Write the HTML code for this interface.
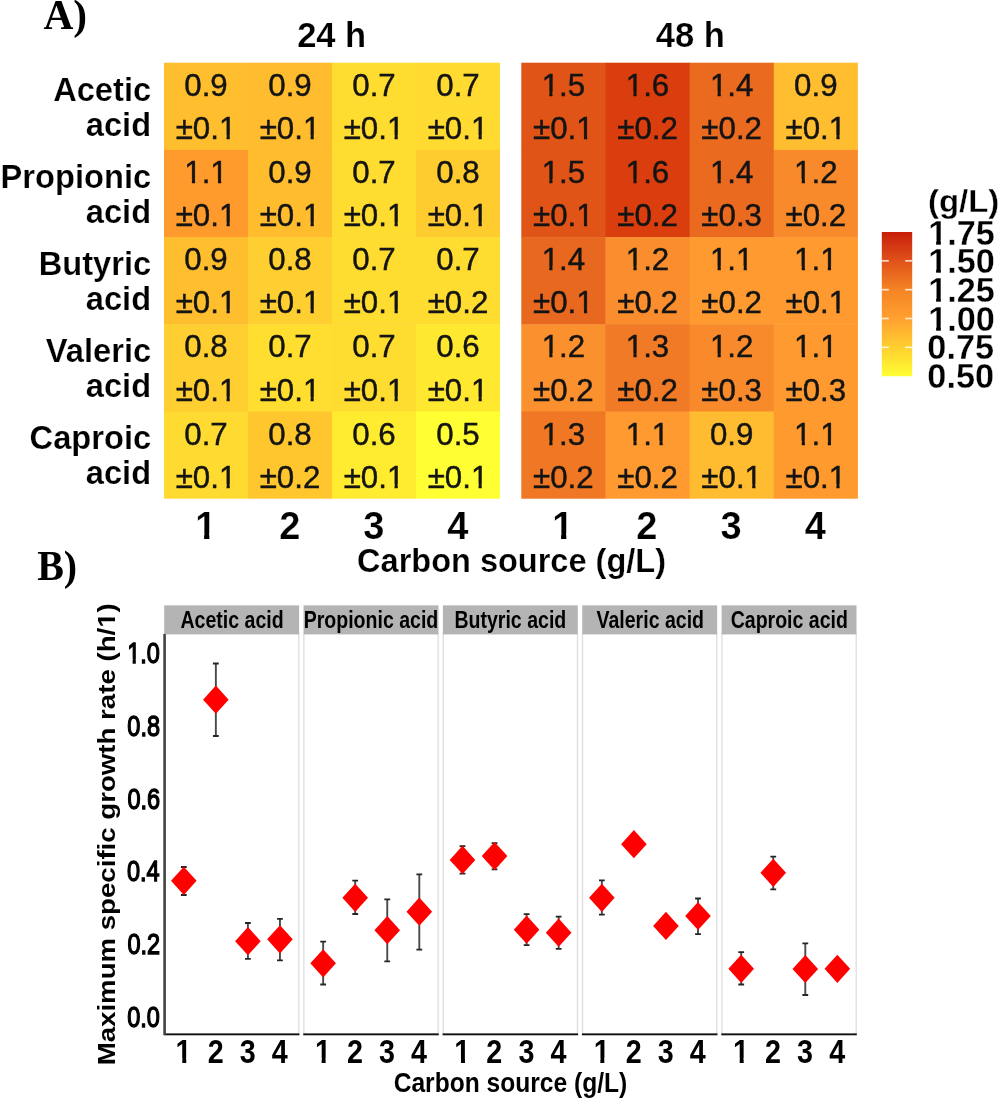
<!DOCTYPE html>
<html><head><meta charset="utf-8"><title>Figure</title>
<style>
html,body{margin:0;padding:0;background:#fff;}
body{width:1003px;height:1108px;overflow:hidden;font-family:"Liberation Sans",sans-serif;}
svg{display:block;filter:blur(0.45px);}
text.s{font-family:"Liberation Sans",sans-serif;}
text.r{font-family:"Liberation Serif",serif;}
text.b{font-weight:bold;}
text.k0{font-kerning:none;}
</style></head><body>
<svg width="1003" height="1108" viewBox="0 0 1003 1108">
<rect width="1003" height="1108" fill="#fff"/>
<rect x="164.00" y="62.70" width="84.50" height="87.70" fill="#FFBE2E"/>
<rect x="248.00" y="62.70" width="84.50" height="87.70" fill="#FFBC2E"/>
<rect x="332.00" y="62.70" width="84.50" height="87.70" fill="#FFDC30"/>
<rect x="416.00" y="62.70" width="84.00" height="87.70" fill="#FFDA30"/>
<rect x="164.00" y="149.90" width="84.50" height="87.70" fill="#FF9A2C"/>
<rect x="248.00" y="149.90" width="84.50" height="87.70" fill="#FFBD2E"/>
<rect x="332.00" y="149.90" width="84.50" height="87.70" fill="#FFDC30"/>
<rect x="416.00" y="149.90" width="84.00" height="87.70" fill="#FFCC30"/>
<rect x="164.00" y="237.10" width="84.50" height="87.70" fill="#FFBE2E"/>
<rect x="248.00" y="237.10" width="84.50" height="87.70" fill="#FFCE30"/>
<rect x="332.00" y="237.10" width="84.50" height="87.70" fill="#FFDC30"/>
<rect x="416.00" y="237.10" width="84.00" height="87.70" fill="#FFDC30"/>
<rect x="164.00" y="324.30" width="84.50" height="87.70" fill="#FFCE30"/>
<rect x="248.00" y="324.30" width="84.50" height="87.70" fill="#FFDE30"/>
<rect x="332.00" y="324.30" width="84.50" height="87.70" fill="#FFDC30"/>
<rect x="416.00" y="324.30" width="84.00" height="87.70" fill="#FFE830"/>
<rect x="164.00" y="411.50" width="84.50" height="87.20" fill="#FFDA30"/>
<rect x="248.00" y="411.50" width="84.50" height="87.20" fill="#FFC62E"/>
<rect x="332.00" y="411.50" width="84.50" height="87.20" fill="#FFEC30"/>
<rect x="416.00" y="411.50" width="84.00" height="87.20" fill="#FFFF33"/>
<text class="s k0" transform="translate(206.00,95.70) scale(0.9800,1)" font-size="31.9" text-anchor="middle" fill="#141414" stroke="#141414" stroke-width="0.45">0.9</text>
<text class="s k0" transform="translate(206.00,139.00) scale(0.9800,1)" font-size="31.9" text-anchor="middle" fill="#141414" stroke="#141414" stroke-width="0.45">±0.1</text>
<rect x="220.14" y="135.08" width="6.41" height="5.64" fill="#FFBE2E"/>
<rect x="229.77" y="135.08" width="6.16" height="5.64" fill="#FFBE2E"/>
<text class="s k0" transform="translate(290.00,95.70) scale(0.9800,1)" font-size="31.9" text-anchor="middle" fill="#141414" stroke="#141414" stroke-width="0.45">0.9</text>
<text class="s k0" transform="translate(290.00,139.00) scale(0.9800,1)" font-size="31.9" text-anchor="middle" fill="#141414" stroke="#141414" stroke-width="0.45">±0.1</text>
<rect x="304.14" y="135.08" width="6.41" height="5.64" fill="#FFBC2E"/>
<rect x="313.77" y="135.08" width="6.16" height="5.64" fill="#FFBC2E"/>
<text class="s k0" transform="translate(374.00,95.70) scale(0.9800,1)" font-size="31.9" text-anchor="middle" fill="#141414" stroke="#141414" stroke-width="0.45">0.7</text>
<text class="s k0" transform="translate(374.00,139.00) scale(0.9800,1)" font-size="31.9" text-anchor="middle" fill="#141414" stroke="#141414" stroke-width="0.45">±0.1</text>
<rect x="388.14" y="135.08" width="6.41" height="5.64" fill="#FFDC30"/>
<rect x="397.77" y="135.08" width="6.16" height="5.64" fill="#FFDC30"/>
<text class="s k0" transform="translate(458.00,95.70) scale(0.9800,1)" font-size="31.9" text-anchor="middle" fill="#141414" stroke="#141414" stroke-width="0.45">0.7</text>
<text class="s k0" transform="translate(458.00,139.00) scale(0.9800,1)" font-size="31.9" text-anchor="middle" fill="#141414" stroke="#141414" stroke-width="0.45">±0.1</text>
<rect x="472.14" y="135.08" width="6.41" height="5.64" fill="#FFDA30"/>
<rect x="481.77" y="135.08" width="6.16" height="5.64" fill="#FFDA30"/>
<text class="s k0" transform="translate(206.00,182.90) scale(0.9800,1)" font-size="31.9" text-anchor="middle" fill="#141414" stroke="#141414" stroke-width="0.45">1.1</text>
<rect x="185.49" y="178.98" width="6.41" height="5.64" fill="#FF9A2C"/>
<rect x="195.12" y="178.98" width="6.16" height="5.64" fill="#FF9A2C"/>
<rect x="211.56" y="178.98" width="6.41" height="5.64" fill="#FF9A2C"/>
<rect x="221.19" y="178.98" width="6.16" height="5.64" fill="#FF9A2C"/>
<text class="s k0" transform="translate(206.00,226.20) scale(0.9800,1)" font-size="31.9" text-anchor="middle" fill="#141414" stroke="#141414" stroke-width="0.45">±0.1</text>
<rect x="220.14" y="222.28" width="6.41" height="5.64" fill="#FF9A2C"/>
<rect x="229.77" y="222.28" width="6.16" height="5.64" fill="#FF9A2C"/>
<text class="s k0" transform="translate(290.00,182.90) scale(0.9800,1)" font-size="31.9" text-anchor="middle" fill="#141414" stroke="#141414" stroke-width="0.45">0.9</text>
<text class="s k0" transform="translate(290.00,226.20) scale(0.9800,1)" font-size="31.9" text-anchor="middle" fill="#141414" stroke="#141414" stroke-width="0.45">±0.1</text>
<rect x="304.14" y="222.28" width="6.41" height="5.64" fill="#FFBD2E"/>
<rect x="313.77" y="222.28" width="6.16" height="5.64" fill="#FFBD2E"/>
<text class="s k0" transform="translate(374.00,182.90) scale(0.9800,1)" font-size="31.9" text-anchor="middle" fill="#141414" stroke="#141414" stroke-width="0.45">0.7</text>
<text class="s k0" transform="translate(374.00,226.20) scale(0.9800,1)" font-size="31.9" text-anchor="middle" fill="#141414" stroke="#141414" stroke-width="0.45">±0.1</text>
<rect x="388.14" y="222.28" width="6.41" height="5.64" fill="#FFDC30"/>
<rect x="397.77" y="222.28" width="6.16" height="5.64" fill="#FFDC30"/>
<text class="s k0" transform="translate(458.00,182.90) scale(0.9800,1)" font-size="31.9" text-anchor="middle" fill="#141414" stroke="#141414" stroke-width="0.45">0.8</text>
<text class="s k0" transform="translate(458.00,226.20) scale(0.9800,1)" font-size="31.9" text-anchor="middle" fill="#141414" stroke="#141414" stroke-width="0.45">±0.1</text>
<rect x="472.14" y="222.28" width="6.41" height="5.64" fill="#FFCC30"/>
<rect x="481.77" y="222.28" width="6.16" height="5.64" fill="#FFCC30"/>
<text class="s k0" transform="translate(206.00,270.10) scale(0.9800,1)" font-size="31.9" text-anchor="middle" fill="#141414" stroke="#141414" stroke-width="0.45">0.9</text>
<text class="s k0" transform="translate(206.00,313.40) scale(0.9800,1)" font-size="31.9" text-anchor="middle" fill="#141414" stroke="#141414" stroke-width="0.45">±0.1</text>
<rect x="220.14" y="309.48" width="6.41" height="5.64" fill="#FFBE2E"/>
<rect x="229.77" y="309.48" width="6.16" height="5.64" fill="#FFBE2E"/>
<text class="s k0" transform="translate(290.00,270.10) scale(0.9800,1)" font-size="31.9" text-anchor="middle" fill="#141414" stroke="#141414" stroke-width="0.45">0.8</text>
<text class="s k0" transform="translate(290.00,313.40) scale(0.9800,1)" font-size="31.9" text-anchor="middle" fill="#141414" stroke="#141414" stroke-width="0.45">±0.1</text>
<rect x="304.14" y="309.48" width="6.41" height="5.64" fill="#FFCE30"/>
<rect x="313.77" y="309.48" width="6.16" height="5.64" fill="#FFCE30"/>
<text class="s k0" transform="translate(374.00,270.10) scale(0.9800,1)" font-size="31.9" text-anchor="middle" fill="#141414" stroke="#141414" stroke-width="0.45">0.7</text>
<text class="s k0" transform="translate(374.00,313.40) scale(0.9800,1)" font-size="31.9" text-anchor="middle" fill="#141414" stroke="#141414" stroke-width="0.45">±0.1</text>
<rect x="388.14" y="309.48" width="6.41" height="5.64" fill="#FFDC30"/>
<rect x="397.77" y="309.48" width="6.16" height="5.64" fill="#FFDC30"/>
<text class="s k0" transform="translate(458.00,270.10) scale(0.9800,1)" font-size="31.9" text-anchor="middle" fill="#141414" stroke="#141414" stroke-width="0.45">0.7</text>
<text class="s k0" transform="translate(458.00,313.40) scale(0.9800,1)" font-size="31.9" text-anchor="middle" fill="#141414" stroke="#141414" stroke-width="0.45">±0.2</text>
<text class="s k0" transform="translate(206.00,357.30) scale(0.9800,1)" font-size="31.9" text-anchor="middle" fill="#141414" stroke="#141414" stroke-width="0.45">0.8</text>
<text class="s k0" transform="translate(206.00,400.60) scale(0.9800,1)" font-size="31.9" text-anchor="middle" fill="#141414" stroke="#141414" stroke-width="0.45">±0.1</text>
<rect x="220.14" y="396.68" width="6.41" height="5.64" fill="#FFCE30"/>
<rect x="229.77" y="396.68" width="6.16" height="5.64" fill="#FFCE30"/>
<text class="s k0" transform="translate(290.00,357.30) scale(0.9800,1)" font-size="31.9" text-anchor="middle" fill="#141414" stroke="#141414" stroke-width="0.45">0.7</text>
<text class="s k0" transform="translate(290.00,400.60) scale(0.9800,1)" font-size="31.9" text-anchor="middle" fill="#141414" stroke="#141414" stroke-width="0.45">±0.1</text>
<rect x="304.14" y="396.68" width="6.41" height="5.64" fill="#FFDE30"/>
<rect x="313.77" y="396.68" width="6.16" height="5.64" fill="#FFDE30"/>
<text class="s k0" transform="translate(374.00,357.30) scale(0.9800,1)" font-size="31.9" text-anchor="middle" fill="#141414" stroke="#141414" stroke-width="0.45">0.7</text>
<text class="s k0" transform="translate(374.00,400.60) scale(0.9800,1)" font-size="31.9" text-anchor="middle" fill="#141414" stroke="#141414" stroke-width="0.45">±0.1</text>
<rect x="388.14" y="396.68" width="6.41" height="5.64" fill="#FFDC30"/>
<rect x="397.77" y="396.68" width="6.16" height="5.64" fill="#FFDC30"/>
<text class="s k0" transform="translate(458.00,357.30) scale(0.9800,1)" font-size="31.9" text-anchor="middle" fill="#141414" stroke="#141414" stroke-width="0.45">0.6</text>
<text class="s k0" transform="translate(458.00,400.60) scale(0.9800,1)" font-size="31.9" text-anchor="middle" fill="#141414" stroke="#141414" stroke-width="0.45">±0.1</text>
<rect x="472.14" y="396.68" width="6.41" height="5.64" fill="#FFE830"/>
<rect x="481.77" y="396.68" width="6.16" height="5.64" fill="#FFE830"/>
<text class="s k0" transform="translate(206.00,444.50) scale(0.9800,1)" font-size="31.9" text-anchor="middle" fill="#141414" stroke="#141414" stroke-width="0.45">0.7</text>
<text class="s k0" transform="translate(206.00,487.80) scale(0.9800,1)" font-size="31.9" text-anchor="middle" fill="#141414" stroke="#141414" stroke-width="0.45">±0.1</text>
<rect x="220.14" y="483.88" width="6.41" height="5.64" fill="#FFDA30"/>
<rect x="229.77" y="483.88" width="6.16" height="5.64" fill="#FFDA30"/>
<text class="s k0" transform="translate(290.00,444.50) scale(0.9800,1)" font-size="31.9" text-anchor="middle" fill="#141414" stroke="#141414" stroke-width="0.45">0.8</text>
<text class="s k0" transform="translate(290.00,487.80) scale(0.9800,1)" font-size="31.9" text-anchor="middle" fill="#141414" stroke="#141414" stroke-width="0.45">±0.2</text>
<text class="s k0" transform="translate(374.00,444.50) scale(0.9800,1)" font-size="31.9" text-anchor="middle" fill="#141414" stroke="#141414" stroke-width="0.45">0.6</text>
<text class="s k0" transform="translate(374.00,487.80) scale(0.9800,1)" font-size="31.9" text-anchor="middle" fill="#141414" stroke="#141414" stroke-width="0.45">±0.1</text>
<rect x="388.14" y="483.88" width="6.41" height="5.64" fill="#FFEC30"/>
<rect x="397.77" y="483.88" width="6.16" height="5.64" fill="#FFEC30"/>
<text class="s k0" transform="translate(458.00,444.50) scale(0.9800,1)" font-size="31.9" text-anchor="middle" fill="#141414" stroke="#141414" stroke-width="0.45">0.5</text>
<text class="s k0" transform="translate(458.00,487.80) scale(0.9800,1)" font-size="31.9" text-anchor="middle" fill="#141414" stroke="#141414" stroke-width="0.45">±0.1</text>
<rect x="472.14" y="483.88" width="6.41" height="5.64" fill="#FFFF33"/>
<rect x="481.77" y="483.88" width="6.16" height="5.64" fill="#FFFF33"/>
<rect x="521.30" y="62.70" width="84.65" height="87.70" fill="#E15417"/>
<rect x="605.45" y="62.70" width="84.65" height="87.70" fill="#DA3E0E"/>
<rect x="689.60" y="62.70" width="84.65" height="87.70" fill="#EA6A20"/>
<rect x="773.75" y="62.70" width="84.15" height="87.70" fill="#FFBE30"/>
<rect x="521.30" y="149.90" width="84.65" height="87.70" fill="#E15417"/>
<rect x="605.45" y="149.90" width="84.65" height="87.70" fill="#DA3E0E"/>
<rect x="689.60" y="149.90" width="84.65" height="87.70" fill="#EA6A20"/>
<rect x="773.75" y="149.90" width="84.15" height="87.70" fill="#F98A2C"/>
<rect x="521.30" y="237.10" width="84.65" height="87.70" fill="#E86820"/>
<rect x="605.45" y="237.10" width="84.65" height="87.70" fill="#FA8E2E"/>
<rect x="689.60" y="237.10" width="84.65" height="87.70" fill="#FF9A30"/>
<rect x="773.75" y="237.10" width="84.15" height="87.70" fill="#FF9A30"/>
<rect x="521.30" y="324.30" width="84.65" height="87.70" fill="#FA902E"/>
<rect x="605.45" y="324.30" width="84.65" height="87.70" fill="#F07A26"/>
<rect x="689.60" y="324.30" width="84.65" height="87.70" fill="#F88A2C"/>
<rect x="773.75" y="324.30" width="84.15" height="87.70" fill="#FF9A30"/>
<rect x="521.30" y="411.50" width="84.65" height="87.20" fill="#F07824"/>
<rect x="605.45" y="411.50" width="84.65" height="87.20" fill="#FF9A30"/>
<rect x="689.60" y="411.50" width="84.65" height="87.20" fill="#FFBC30"/>
<rect x="773.75" y="411.50" width="84.15" height="87.20" fill="#FF9A2F"/>
<text class="s k0" transform="translate(563.38,95.70) scale(0.9800,1)" font-size="31.9" text-anchor="middle" fill="#141414" stroke="#141414" stroke-width="0.45">1.5</text>
<rect x="542.86" y="91.78" width="6.41" height="5.64" fill="#E15417"/>
<rect x="552.50" y="91.78" width="6.16" height="5.64" fill="#E15417"/>
<text class="s k0" transform="translate(563.38,139.00) scale(0.9800,1)" font-size="31.9" text-anchor="middle" fill="#141414" stroke="#141414" stroke-width="0.45">±0.1</text>
<rect x="577.51" y="135.08" width="6.41" height="5.64" fill="#E15417"/>
<rect x="587.15" y="135.08" width="6.16" height="5.64" fill="#E15417"/>
<text class="s k0" transform="translate(647.52,95.70) scale(0.9800,1)" font-size="31.9" text-anchor="middle" fill="#141414" stroke="#141414" stroke-width="0.45">1.6</text>
<rect x="627.01" y="91.78" width="6.41" height="5.64" fill="#DA3E0E"/>
<rect x="636.65" y="91.78" width="6.16" height="5.64" fill="#DA3E0E"/>
<text class="s k0" transform="translate(647.52,139.00) scale(0.9800,1)" font-size="31.9" text-anchor="middle" fill="#141414" stroke="#141414" stroke-width="0.45">±0.2</text>
<text class="s k0" transform="translate(731.67,95.70) scale(0.9800,1)" font-size="31.9" text-anchor="middle" fill="#141414" stroke="#141414" stroke-width="0.45">1.4</text>
<rect x="711.16" y="91.78" width="6.41" height="5.64" fill="#EA6A20"/>
<rect x="720.80" y="91.78" width="6.16" height="5.64" fill="#EA6A20"/>
<text class="s k0" transform="translate(731.67,139.00) scale(0.9800,1)" font-size="31.9" text-anchor="middle" fill="#141414" stroke="#141414" stroke-width="0.45">±0.2</text>
<text class="s k0" transform="translate(815.83,95.70) scale(0.9800,1)" font-size="31.9" text-anchor="middle" fill="#141414" stroke="#141414" stroke-width="0.45">0.9</text>
<text class="s k0" transform="translate(815.83,139.00) scale(0.9800,1)" font-size="31.9" text-anchor="middle" fill="#141414" stroke="#141414" stroke-width="0.45">±0.1</text>
<rect x="829.96" y="135.08" width="6.41" height="5.64" fill="#FFBE30"/>
<rect x="839.60" y="135.08" width="6.16" height="5.64" fill="#FFBE30"/>
<text class="s k0" transform="translate(563.38,182.90) scale(0.9800,1)" font-size="31.9" text-anchor="middle" fill="#141414" stroke="#141414" stroke-width="0.45">1.5</text>
<rect x="542.86" y="178.98" width="6.41" height="5.64" fill="#E15417"/>
<rect x="552.50" y="178.98" width="6.16" height="5.64" fill="#E15417"/>
<text class="s k0" transform="translate(563.38,226.20) scale(0.9800,1)" font-size="31.9" text-anchor="middle" fill="#141414" stroke="#141414" stroke-width="0.45">±0.1</text>
<rect x="577.51" y="222.28" width="6.41" height="5.64" fill="#E15417"/>
<rect x="587.15" y="222.28" width="6.16" height="5.64" fill="#E15417"/>
<text class="s k0" transform="translate(647.52,182.90) scale(0.9800,1)" font-size="31.9" text-anchor="middle" fill="#141414" stroke="#141414" stroke-width="0.45">1.6</text>
<rect x="627.01" y="178.98" width="6.41" height="5.64" fill="#DA3E0E"/>
<rect x="636.65" y="178.98" width="6.16" height="5.64" fill="#DA3E0E"/>
<text class="s k0" transform="translate(647.52,226.20) scale(0.9800,1)" font-size="31.9" text-anchor="middle" fill="#141414" stroke="#141414" stroke-width="0.45">±0.2</text>
<text class="s k0" transform="translate(731.67,182.90) scale(0.9800,1)" font-size="31.9" text-anchor="middle" fill="#141414" stroke="#141414" stroke-width="0.45">1.4</text>
<rect x="711.16" y="178.98" width="6.41" height="5.64" fill="#EA6A20"/>
<rect x="720.80" y="178.98" width="6.16" height="5.64" fill="#EA6A20"/>
<text class="s k0" transform="translate(731.67,226.20) scale(0.9800,1)" font-size="31.9" text-anchor="middle" fill="#141414" stroke="#141414" stroke-width="0.45">±0.3</text>
<text class="s k0" transform="translate(815.83,182.90) scale(0.9800,1)" font-size="31.9" text-anchor="middle" fill="#141414" stroke="#141414" stroke-width="0.45">1.2</text>
<rect x="795.31" y="178.98" width="6.41" height="5.64" fill="#F98A2C"/>
<rect x="804.95" y="178.98" width="6.16" height="5.64" fill="#F98A2C"/>
<text class="s k0" transform="translate(815.83,226.20) scale(0.9800,1)" font-size="31.9" text-anchor="middle" fill="#141414" stroke="#141414" stroke-width="0.45">±0.2</text>
<text class="s k0" transform="translate(563.38,270.10) scale(0.9800,1)" font-size="31.9" text-anchor="middle" fill="#141414" stroke="#141414" stroke-width="0.45">1.4</text>
<rect x="542.86" y="266.18" width="6.41" height="5.64" fill="#E86820"/>
<rect x="552.50" y="266.18" width="6.16" height="5.64" fill="#E86820"/>
<text class="s k0" transform="translate(563.38,313.40) scale(0.9800,1)" font-size="31.9" text-anchor="middle" fill="#141414" stroke="#141414" stroke-width="0.45">±0.1</text>
<rect x="577.51" y="309.48" width="6.41" height="5.64" fill="#E86820"/>
<rect x="587.15" y="309.48" width="6.16" height="5.64" fill="#E86820"/>
<text class="s k0" transform="translate(647.52,270.10) scale(0.9800,1)" font-size="31.9" text-anchor="middle" fill="#141414" stroke="#141414" stroke-width="0.45">1.2</text>
<rect x="627.01" y="266.18" width="6.41" height="5.64" fill="#FA8E2E"/>
<rect x="636.65" y="266.18" width="6.16" height="5.64" fill="#FA8E2E"/>
<text class="s k0" transform="translate(647.52,313.40) scale(0.9800,1)" font-size="31.9" text-anchor="middle" fill="#141414" stroke="#141414" stroke-width="0.45">±0.2</text>
<text class="s k0" transform="translate(731.67,270.10) scale(0.9800,1)" font-size="31.9" text-anchor="middle" fill="#141414" stroke="#141414" stroke-width="0.45">1.1</text>
<rect x="711.16" y="266.18" width="6.41" height="5.64" fill="#FF9A30"/>
<rect x="720.80" y="266.18" width="6.16" height="5.64" fill="#FF9A30"/>
<rect x="737.24" y="266.18" width="6.41" height="5.64" fill="#FF9A30"/>
<rect x="746.87" y="266.18" width="6.16" height="5.64" fill="#FF9A30"/>
<text class="s k0" transform="translate(731.67,313.40) scale(0.9800,1)" font-size="31.9" text-anchor="middle" fill="#141414" stroke="#141414" stroke-width="0.45">±0.2</text>
<text class="s k0" transform="translate(815.83,270.10) scale(0.9800,1)" font-size="31.9" text-anchor="middle" fill="#141414" stroke="#141414" stroke-width="0.45">1.1</text>
<rect x="795.31" y="266.18" width="6.41" height="5.64" fill="#FF9A30"/>
<rect x="804.95" y="266.18" width="6.16" height="5.64" fill="#FF9A30"/>
<rect x="821.39" y="266.18" width="6.41" height="5.64" fill="#FF9A30"/>
<rect x="831.02" y="266.18" width="6.16" height="5.64" fill="#FF9A30"/>
<text class="s k0" transform="translate(815.83,313.40) scale(0.9800,1)" font-size="31.9" text-anchor="middle" fill="#141414" stroke="#141414" stroke-width="0.45">±0.1</text>
<rect x="829.96" y="309.48" width="6.41" height="5.64" fill="#FF9A30"/>
<rect x="839.60" y="309.48" width="6.16" height="5.64" fill="#FF9A30"/>
<text class="s k0" transform="translate(563.38,357.30) scale(0.9800,1)" font-size="31.9" text-anchor="middle" fill="#141414" stroke="#141414" stroke-width="0.45">1.2</text>
<rect x="542.86" y="353.38" width="6.41" height="5.64" fill="#FA902E"/>
<rect x="552.50" y="353.38" width="6.16" height="5.64" fill="#FA902E"/>
<text class="s k0" transform="translate(563.38,400.60) scale(0.9800,1)" font-size="31.9" text-anchor="middle" fill="#141414" stroke="#141414" stroke-width="0.45">±0.2</text>
<text class="s k0" transform="translate(647.52,357.30) scale(0.9800,1)" font-size="31.9" text-anchor="middle" fill="#141414" stroke="#141414" stroke-width="0.45">1.3</text>
<rect x="627.01" y="353.38" width="6.41" height="5.64" fill="#F07A26"/>
<rect x="636.65" y="353.38" width="6.16" height="5.64" fill="#F07A26"/>
<text class="s k0" transform="translate(647.52,400.60) scale(0.9800,1)" font-size="31.9" text-anchor="middle" fill="#141414" stroke="#141414" stroke-width="0.45">±0.2</text>
<text class="s k0" transform="translate(731.67,357.30) scale(0.9800,1)" font-size="31.9" text-anchor="middle" fill="#141414" stroke="#141414" stroke-width="0.45">1.2</text>
<rect x="711.16" y="353.38" width="6.41" height="5.64" fill="#F88A2C"/>
<rect x="720.80" y="353.38" width="6.16" height="5.64" fill="#F88A2C"/>
<text class="s k0" transform="translate(731.67,400.60) scale(0.9800,1)" font-size="31.9" text-anchor="middle" fill="#141414" stroke="#141414" stroke-width="0.45">±0.3</text>
<text class="s k0" transform="translate(815.83,357.30) scale(0.9800,1)" font-size="31.9" text-anchor="middle" fill="#141414" stroke="#141414" stroke-width="0.45">1.1</text>
<rect x="795.31" y="353.38" width="6.41" height="5.64" fill="#FF9A30"/>
<rect x="804.95" y="353.38" width="6.16" height="5.64" fill="#FF9A30"/>
<rect x="821.39" y="353.38" width="6.41" height="5.64" fill="#FF9A30"/>
<rect x="831.02" y="353.38" width="6.16" height="5.64" fill="#FF9A30"/>
<text class="s k0" transform="translate(815.83,400.60) scale(0.9800,1)" font-size="31.9" text-anchor="middle" fill="#141414" stroke="#141414" stroke-width="0.45">±0.3</text>
<text class="s k0" transform="translate(563.38,444.50) scale(0.9800,1)" font-size="31.9" text-anchor="middle" fill="#141414" stroke="#141414" stroke-width="0.45">1.3</text>
<rect x="542.86" y="440.58" width="6.41" height="5.64" fill="#F07824"/>
<rect x="552.50" y="440.58" width="6.16" height="5.64" fill="#F07824"/>
<text class="s k0" transform="translate(563.38,487.80) scale(0.9800,1)" font-size="31.9" text-anchor="middle" fill="#141414" stroke="#141414" stroke-width="0.45">±0.2</text>
<text class="s k0" transform="translate(647.52,444.50) scale(0.9800,1)" font-size="31.9" text-anchor="middle" fill="#141414" stroke="#141414" stroke-width="0.45">1.1</text>
<rect x="627.01" y="440.58" width="6.41" height="5.64" fill="#FF9A30"/>
<rect x="636.65" y="440.58" width="6.16" height="5.64" fill="#FF9A30"/>
<rect x="653.09" y="440.58" width="6.41" height="5.64" fill="#FF9A30"/>
<rect x="662.72" y="440.58" width="6.16" height="5.64" fill="#FF9A30"/>
<text class="s k0" transform="translate(647.52,487.80) scale(0.9800,1)" font-size="31.9" text-anchor="middle" fill="#141414" stroke="#141414" stroke-width="0.45">±0.2</text>
<text class="s k0" transform="translate(731.67,444.50) scale(0.9800,1)" font-size="31.9" text-anchor="middle" fill="#141414" stroke="#141414" stroke-width="0.45">0.9</text>
<text class="s k0" transform="translate(731.67,487.80) scale(0.9800,1)" font-size="31.9" text-anchor="middle" fill="#141414" stroke="#141414" stroke-width="0.45">±0.1</text>
<rect x="745.81" y="483.88" width="6.41" height="5.64" fill="#FFBC30"/>
<rect x="755.45" y="483.88" width="6.16" height="5.64" fill="#FFBC30"/>
<text class="s k0" transform="translate(815.83,444.50) scale(0.9800,1)" font-size="31.9" text-anchor="middle" fill="#141414" stroke="#141414" stroke-width="0.45">1.1</text>
<rect x="795.31" y="440.58" width="6.41" height="5.64" fill="#FF9A2F"/>
<rect x="804.95" y="440.58" width="6.16" height="5.64" fill="#FF9A2F"/>
<rect x="821.39" y="440.58" width="6.41" height="5.64" fill="#FF9A2F"/>
<rect x="831.02" y="440.58" width="6.16" height="5.64" fill="#FF9A2F"/>
<text class="s k0" transform="translate(815.83,487.80) scale(0.9800,1)" font-size="31.9" text-anchor="middle" fill="#141414" stroke="#141414" stroke-width="0.45">±0.1</text>
<rect x="829.96" y="483.88" width="6.41" height="5.64" fill="#FF9A2F"/>
<rect x="839.60" y="483.88" width="6.16" height="5.64" fill="#FF9A2F"/>
<text class="s b" transform="translate(331.67,46.60) scale(0.9650,1)" font-size="35.8" text-anchor="middle" fill="#000" stroke="#fff" stroke-width="0.22">24 h</text>
<text class="s b" transform="translate(690.31,46.60) scale(0.9650,1)" font-size="35.8" text-anchor="middle" fill="#000" stroke="#fff" stroke-width="0.22">48 h</text>
<text class="r b" transform="translate(43.50,28.70) scale(0.9850,1)" font-size="42" text-anchor="start" fill="#000">A)</text>
<text class="r b" transform="translate(37.24,579.70) scale(0.9440,1)" font-size="42.3" text-anchor="start" fill="#000">B)</text>
<text class="s b" transform="translate(151.16,100.80) scale(0.9750,1)" font-size="33.5" text-anchor="end" fill="#000" stroke="#fff" stroke-width="0.2">Acetic</text>
<text class="s b" transform="translate(151.15,136.20) scale(0.9750,1)" font-size="33.5" text-anchor="end" fill="#000" stroke="#fff" stroke-width="0.2">acid</text>
<text class="s b" transform="translate(151.16,187.80) scale(0.9750,1)" font-size="33.5" text-anchor="end" fill="#000" stroke="#fff" stroke-width="0.2">Propionic</text>
<text class="s b" transform="translate(151.15,223.20) scale(0.9750,1)" font-size="33.5" text-anchor="end" fill="#000" stroke="#fff" stroke-width="0.2">acid</text>
<text class="s b" transform="translate(151.16,274.80) scale(0.9750,1)" font-size="33.5" text-anchor="end" fill="#000" stroke="#fff" stroke-width="0.2">Butyric</text>
<text class="s b" transform="translate(151.15,310.20) scale(0.9750,1)" font-size="33.5" text-anchor="end" fill="#000" stroke="#fff" stroke-width="0.2">acid</text>
<text class="s b" transform="translate(151.16,361.80) scale(0.9750,1)" font-size="33.5" text-anchor="end" fill="#000" stroke="#fff" stroke-width="0.2">Valeric</text>
<text class="s b" transform="translate(151.15,397.20) scale(0.9750,1)" font-size="33.5" text-anchor="end" fill="#000" stroke="#fff" stroke-width="0.2">acid</text>
<text class="s b" transform="translate(151.16,448.80) scale(0.9750,1)" font-size="33.5" text-anchor="end" fill="#000" stroke="#fff" stroke-width="0.2">Caproic</text>
<text class="s b" transform="translate(151.15,484.20) scale(0.9750,1)" font-size="33.5" text-anchor="end" fill="#000" stroke="#fff" stroke-width="0.2">acid</text>
<text class="s b k0" transform="translate(205.80,538.50)" font-size="38" text-anchor="middle" fill="#000" stroke="#fff" stroke-width="0.22">1</text>
<rect x="196.49" y="533.32" width="7.60" height="6.68" fill="#fff"/>
<rect x="209.33" y="533.32" width="7.11" height="6.68" fill="#fff"/>
<text class="s b k0" transform="translate(562.77,538.50)" font-size="38" text-anchor="middle" fill="#000" stroke="#fff" stroke-width="0.22">1</text>
<rect x="553.46" y="533.32" width="7.60" height="6.68" fill="#fff"/>
<rect x="566.31" y="533.32" width="7.11" height="6.68" fill="#fff"/>
<text class="s b k0" transform="translate(289.80,538.50)" font-size="38" text-anchor="middle" fill="#000" stroke="#fff" stroke-width="0.22">2</text>
<text class="s b k0" transform="translate(646.92,538.50)" font-size="38" text-anchor="middle" fill="#000" stroke="#fff" stroke-width="0.22">2</text>
<text class="s b k0" transform="translate(373.80,538.50)" font-size="38" text-anchor="middle" fill="#000" stroke="#fff" stroke-width="0.22">3</text>
<text class="s b k0" transform="translate(731.07,538.50)" font-size="38" text-anchor="middle" fill="#000" stroke="#fff" stroke-width="0.22">3</text>
<text class="s b k0" transform="translate(457.80,538.50)" font-size="38" text-anchor="middle" fill="#000" stroke="#fff" stroke-width="0.22">4</text>
<text class="s b k0" transform="translate(815.23,538.50)" font-size="38" text-anchor="middle" fill="#000" stroke="#fff" stroke-width="0.22">4</text>
<text class="s b" transform="translate(357.07,572.20) scale(0.9980,1)" font-size="32.6" text-anchor="start" fill="#000" stroke="#fff" stroke-width="0.22">Carbon source (g/L)</text>
<defs><linearGradient id="lg" x1="0" y1="0" x2="0" y2="1">
<stop offset="0" stop-color="#C81E0A"/>
<stop offset="0.2" stop-color="#E0521A"/>
<stop offset="0.4" stop-color="#F58425"/>
<stop offset="0.6" stop-color="#FFA030"/>
<stop offset="0.8" stop-color="#FFCF30"/>
<stop offset="1" stop-color="#FFFF33"/>
</linearGradient></defs>
<rect x="881.8" y="232" width="30.4" height="144.2" fill="url(#lg)"/>
<rect x="881.8" y="260.04" width="7" height="1.6" fill="#fff" opacity="0.8"/>
<rect x="905.2" y="260.04" width="7" height="1.6" fill="#fff" opacity="0.8"/>
<rect x="881.8" y="288.88" width="7" height="1.6" fill="#fff" opacity="0.8"/>
<rect x="905.2" y="288.88" width="7" height="1.6" fill="#fff" opacity="0.8"/>
<rect x="881.8" y="317.72" width="7" height="1.6" fill="#fff" opacity="0.8"/>
<rect x="905.2" y="317.72" width="7" height="1.6" fill="#fff" opacity="0.8"/>
<rect x="881.8" y="346.56" width="7" height="1.6" fill="#fff" opacity="0.8"/>
<rect x="905.2" y="346.56" width="7" height="1.6" fill="#fff" opacity="0.8"/>
<text class="s b" transform="translate(927.96,211.90) scale(1.0300,1)" font-size="32.0" text-anchor="start" fill="#000" stroke="#fff" stroke-width="0.32">(g/L)</text>
<text class="s b k0" transform="translate(928.14,244.80) scale(0.9570,1)" font-size="35.8" text-anchor="start" fill="#000" stroke="#fff" stroke-width="0.32">1.75</text>
<rect x="929.27" y="239.85" width="6.85" height="6.45" fill="#fff"/>
<rect x="940.85" y="239.85" width="6.41" height="6.45" fill="#fff"/>
<text class="s b k0" transform="translate(928.14,273.44) scale(0.9570,1)" font-size="35.8" text-anchor="start" fill="#000" stroke="#fff" stroke-width="0.32">1.50</text>
<rect x="929.27" y="268.49" width="6.85" height="6.45" fill="#fff"/>
<rect x="940.85" y="268.49" width="6.41" height="6.45" fill="#fff"/>
<text class="s b k0" transform="translate(928.14,302.08) scale(0.9570,1)" font-size="35.8" text-anchor="start" fill="#000" stroke="#fff" stroke-width="0.32">1.25</text>
<rect x="929.27" y="297.13" width="6.85" height="6.45" fill="#fff"/>
<rect x="940.85" y="297.13" width="6.41" height="6.45" fill="#fff"/>
<text class="s b k0" transform="translate(928.14,330.72) scale(0.9570,1)" font-size="35.8" text-anchor="start" fill="#000" stroke="#fff" stroke-width="0.32">1.00</text>
<rect x="929.27" y="325.77" width="6.85" height="6.45" fill="#fff"/>
<rect x="940.85" y="325.77" width="6.41" height="6.45" fill="#fff"/>
<text class="s b k0" transform="translate(927.34,359.36) scale(0.9570,1)" font-size="35.8" text-anchor="start" fill="#000" stroke="#fff" stroke-width="0.32">0.75</text>
<text class="s b k0" transform="translate(927.34,388.00) scale(0.9570,1)" font-size="35.8" text-anchor="start" fill="#000" stroke="#fff" stroke-width="0.32">0.50</text>
<rect x="164.50" y="633.7" width="134.30" height="400.60" fill="#fff" stroke="#E0E0E0" stroke-width="1.4"/>
<rect x="164.20" y="605.4" width="134.90" height="28.90" fill="#B4B4B4"/>
<rect x="163.90" y="1033.40" width="135.50" height="1.9" fill="#111"/>
<text class="s b" transform="translate(232.05,627.65) scale(0.8430,1)" font-size="23.2" text-anchor="middle" fill="#000">Acetic acid</text>
<path d="M183.80 867.00V895.00" stroke="#4a4a4a" stroke-width="1.9" fill="none"/>
<path d="M180.90 867.00h5.8M180.90 895.00h5.8" stroke="#262626" stroke-width="1.8" fill="none"/>
<path d="M183.80 866.70L196.60 880.80L183.80 894.90L171.00 880.80Z" fill="#FF0000"/>
<text class="s b k0" transform="translate(183.60,1062.90) scale(0.8700,1)" font-size="33" text-anchor="middle" fill="#000">1</text>
<rect x="176.56" y="1058.23" width="5.74" height="6.17" fill="#fff"/>
<rect x="186.27" y="1058.23" width="5.37" height="6.17" fill="#fff"/>
<path d="M215.85 663.50V736.00" stroke="#4a4a4a" stroke-width="1.9" fill="none"/>
<path d="M212.95 663.50h5.8M212.95 736.00h5.8" stroke="#262626" stroke-width="1.8" fill="none"/>
<path d="M215.85 685.60L228.65 699.70L215.85 713.80L203.05 699.70Z" fill="#FF0000"/>
<text class="s b k0" transform="translate(215.65,1062.90) scale(0.8700,1)" font-size="33" text-anchor="middle" fill="#000">2</text>
<path d="M247.90 923.00V958.90" stroke="#4a4a4a" stroke-width="1.9" fill="none"/>
<path d="M245.00 923.00h5.8M245.00 958.90h5.8" stroke="#262626" stroke-width="1.8" fill="none"/>
<path d="M247.90 927.10L260.70 941.20L247.90 955.30L235.10 941.20Z" fill="#FF0000"/>
<text class="s b k0" transform="translate(247.70,1062.90) scale(0.8700,1)" font-size="33" text-anchor="middle" fill="#000">3</text>
<path d="M279.95 918.80V960.30" stroke="#4a4a4a" stroke-width="1.9" fill="none"/>
<path d="M277.05 918.80h5.8M277.05 960.30h5.8" stroke="#262626" stroke-width="1.8" fill="none"/>
<path d="M279.95 925.20L292.75 939.30L279.95 953.40L267.15 939.30Z" fill="#FF0000"/>
<text class="s b k0" transform="translate(279.75,1062.90) scale(0.8700,1)" font-size="33" text-anchor="middle" fill="#000">4</text>
<rect x="303.85" y="633.7" width="134.30" height="400.60" fill="#fff" stroke="#E0E0E0" stroke-width="1.4"/>
<rect x="303.55" y="605.4" width="134.90" height="28.90" fill="#B4B4B4"/>
<rect x="303.25" y="1033.40" width="135.50" height="1.9" fill="#111"/>
<text class="s b" transform="translate(370.99,627.65) scale(0.8430,1)" font-size="23.2" text-anchor="middle" fill="#000">Propionic acid</text>
<path d="M323.15 941.60V984.50" stroke="#4a4a4a" stroke-width="1.9" fill="none"/>
<path d="M320.25 941.60h5.8M320.25 984.50h5.8" stroke="#262626" stroke-width="1.8" fill="none"/>
<path d="M323.15 949.20L335.95 963.30L323.15 977.40L310.35 963.30Z" fill="#FF0000"/>
<text class="s b k0" transform="translate(322.95,1062.90) scale(0.8700,1)" font-size="33" text-anchor="middle" fill="#000">1</text>
<rect x="315.91" y="1058.23" width="5.74" height="6.17" fill="#fff"/>
<rect x="325.62" y="1058.23" width="5.37" height="6.17" fill="#fff"/>
<path d="M355.20 880.60V914.00" stroke="#4a4a4a" stroke-width="1.9" fill="none"/>
<path d="M352.30 880.60h5.8M352.30 914.00h5.8" stroke="#262626" stroke-width="1.8" fill="none"/>
<path d="M355.20 883.70L368.00 897.80L355.20 911.90L342.40 897.80Z" fill="#FF0000"/>
<text class="s b k0" transform="translate(355.00,1062.90) scale(0.8700,1)" font-size="33" text-anchor="middle" fill="#000">2</text>
<path d="M387.25 899.30V961.30" stroke="#4a4a4a" stroke-width="1.9" fill="none"/>
<path d="M384.35 899.30h5.8M384.35 961.30h5.8" stroke="#262626" stroke-width="1.8" fill="none"/>
<path d="M387.25 916.10L400.05 930.20L387.25 944.30L374.45 930.20Z" fill="#FF0000"/>
<text class="s b k0" transform="translate(387.05,1062.90) scale(0.8700,1)" font-size="33" text-anchor="middle" fill="#000">3</text>
<path d="M419.30 874.30V949.60" stroke="#4a4a4a" stroke-width="1.9" fill="none"/>
<path d="M416.40 874.30h5.8M416.40 949.60h5.8" stroke="#262626" stroke-width="1.8" fill="none"/>
<path d="M419.30 897.60L432.10 911.70L419.30 925.80L406.50 911.70Z" fill="#FF0000"/>
<text class="s b k0" transform="translate(419.10,1062.90) scale(0.8700,1)" font-size="33" text-anchor="middle" fill="#000">4</text>
<rect x="443.20" y="633.7" width="134.30" height="400.60" fill="#fff" stroke="#E0E0E0" stroke-width="1.4"/>
<rect x="442.90" y="605.4" width="134.90" height="28.90" fill="#B4B4B4"/>
<rect x="442.60" y="1033.40" width="135.50" height="1.9" fill="#111"/>
<text class="s b" transform="translate(510.34,627.65) scale(0.8430,1)" font-size="23.2" text-anchor="middle" fill="#000">Butyric acid</text>
<path d="M462.50 846.20V873.60" stroke="#4a4a4a" stroke-width="1.9" fill="none"/>
<path d="M459.60 846.20h5.8M459.60 873.60h5.8" stroke="#262626" stroke-width="1.8" fill="none"/>
<path d="M462.50 845.80L475.30 859.90L462.50 874.00L449.70 859.90Z" fill="#FF0000"/>
<text class="s b k0" transform="translate(462.30,1062.90) scale(0.8700,1)" font-size="33" text-anchor="middle" fill="#000">1</text>
<rect x="455.26" y="1058.23" width="5.74" height="6.17" fill="#fff"/>
<rect x="464.97" y="1058.23" width="5.37" height="6.17" fill="#fff"/>
<path d="M494.55 843.20V869.40" stroke="#4a4a4a" stroke-width="1.9" fill="none"/>
<path d="M491.65 843.20h5.8M491.65 869.40h5.8" stroke="#262626" stroke-width="1.8" fill="none"/>
<path d="M494.55 842.00L507.35 856.10L494.55 870.20L481.75 856.10Z" fill="#FF0000"/>
<text class="s b k0" transform="translate(494.35,1062.90) scale(0.8700,1)" font-size="33" text-anchor="middle" fill="#000">2</text>
<path d="M526.60 914.20V945.10" stroke="#4a4a4a" stroke-width="1.9" fill="none"/>
<path d="M523.70 914.20h5.8M523.70 945.10h5.8" stroke="#262626" stroke-width="1.8" fill="none"/>
<path d="M526.60 915.60L539.40 929.70L526.60 943.80L513.80 929.70Z" fill="#FF0000"/>
<text class="s b k0" transform="translate(526.40,1062.90) scale(0.8700,1)" font-size="33" text-anchor="middle" fill="#000">3</text>
<path d="M558.65 916.70V948.90" stroke="#4a4a4a" stroke-width="1.9" fill="none"/>
<path d="M555.75 916.70h5.8M555.75 948.90h5.8" stroke="#262626" stroke-width="1.8" fill="none"/>
<path d="M558.65 918.60L571.45 932.70L558.65 946.80L545.85 932.70Z" fill="#FF0000"/>
<text class="s b k0" transform="translate(558.45,1062.90) scale(0.8700,1)" font-size="33" text-anchor="middle" fill="#000">4</text>
<rect x="582.55" y="633.7" width="134.30" height="400.60" fill="#fff" stroke="#E0E0E0" stroke-width="1.4"/>
<rect x="582.25" y="605.4" width="134.90" height="28.90" fill="#B4B4B4"/>
<rect x="581.95" y="1033.40" width="135.50" height="1.9" fill="#111"/>
<text class="s b" transform="translate(650.28,627.65) scale(0.8430,1)" font-size="23.2" text-anchor="middle" fill="#000">Valeric acid</text>
<path d="M601.85 880.30V914.70" stroke="#4a4a4a" stroke-width="1.9" fill="none"/>
<path d="M598.95 880.30h5.8M598.95 914.70h5.8" stroke="#262626" stroke-width="1.8" fill="none"/>
<path d="M601.85 883.70L614.65 897.80L601.85 911.90L589.05 897.80Z" fill="#FF0000"/>
<text class="s b k0" transform="translate(601.65,1062.90) scale(0.8700,1)" font-size="33" text-anchor="middle" fill="#000">1</text>
<rect x="594.61" y="1058.23" width="5.74" height="6.17" fill="#fff"/>
<rect x="604.32" y="1058.23" width="5.37" height="6.17" fill="#fff"/>
<path d="M633.90 830.10L646.70 844.20L633.90 858.30L621.10 844.20Z" fill="#FF0000"/>
<text class="s b k0" transform="translate(633.70,1062.90) scale(0.8700,1)" font-size="33" text-anchor="middle" fill="#000">2</text>
<path d="M665.95 911.80L678.75 925.90L665.95 940.00L653.15 925.90Z" fill="#FF0000"/>
<text class="s b k0" transform="translate(665.75,1062.90) scale(0.8700,1)" font-size="33" text-anchor="middle" fill="#000">3</text>
<path d="M698.00 898.50V934.20" stroke="#4a4a4a" stroke-width="1.9" fill="none"/>
<path d="M695.10 898.50h5.8M695.10 934.20h5.8" stroke="#262626" stroke-width="1.8" fill="none"/>
<path d="M698.00 901.90L710.80 916.00L698.00 930.10L685.20 916.00Z" fill="#FF0000"/>
<text class="s b k0" transform="translate(697.80,1062.90) scale(0.8700,1)" font-size="33" text-anchor="middle" fill="#000">4</text>
<rect x="721.90" y="633.7" width="134.30" height="400.60" fill="#fff" stroke="#E0E0E0" stroke-width="1.4"/>
<rect x="721.60" y="605.4" width="134.90" height="28.90" fill="#B4B4B4"/>
<rect x="721.30" y="1033.40" width="135.50" height="1.9" fill="#111"/>
<text class="s b" transform="translate(789.29,627.65) scale(0.8430,1)" font-size="23.2" text-anchor="middle" fill="#000">Caproic acid</text>
<path d="M741.20 952.10V984.50" stroke="#4a4a4a" stroke-width="1.9" fill="none"/>
<path d="M738.30 952.10h5.8M738.30 984.50h5.8" stroke="#262626" stroke-width="1.8" fill="none"/>
<path d="M741.20 954.70L754.00 968.80L741.20 982.90L728.40 968.80Z" fill="#FF0000"/>
<text class="s b k0" transform="translate(741.00,1062.90) scale(0.8700,1)" font-size="33" text-anchor="middle" fill="#000">1</text>
<rect x="733.96" y="1058.23" width="5.74" height="6.17" fill="#fff"/>
<rect x="743.67" y="1058.23" width="5.37" height="6.17" fill="#fff"/>
<path d="M773.25 856.60V889.30" stroke="#4a4a4a" stroke-width="1.9" fill="none"/>
<path d="M770.35 856.60h5.8M770.35 889.30h5.8" stroke="#262626" stroke-width="1.8" fill="none"/>
<path d="M773.25 858.70L786.05 872.80L773.25 886.90L760.45 872.80Z" fill="#FF0000"/>
<text class="s b k0" transform="translate(773.05,1062.90) scale(0.8700,1)" font-size="33" text-anchor="middle" fill="#000">2</text>
<path d="M805.30 943.40V995.00" stroke="#4a4a4a" stroke-width="1.9" fill="none"/>
<path d="M802.40 943.40h5.8M802.40 995.00h5.8" stroke="#262626" stroke-width="1.8" fill="none"/>
<path d="M805.30 954.90L818.10 969.00L805.30 983.10L792.50 969.00Z" fill="#FF0000"/>
<text class="s b k0" transform="translate(805.10,1062.90) scale(0.8700,1)" font-size="33" text-anchor="middle" fill="#000">3</text>
<path d="M837.35 954.70L850.15 968.80L837.35 982.90L824.55 968.80Z" fill="#FF0000"/>
<text class="s b k0" transform="translate(837.15,1062.90) scale(0.8700,1)" font-size="33" text-anchor="middle" fill="#000">4</text>
<rect x="163.3" y="634.0" width="2.6" height="401.10" fill="#444"/>
<text class="s k0" transform="translate(159.92,1027.10) scale(0.7830,1)" font-size="30.0" text-anchor="end" fill="#000" stroke="#000" stroke-width="1.4">0.0</text>
<text class="s k0" transform="translate(160.18,954.28) scale(0.7830,1)" font-size="30.0" text-anchor="end" fill="#000" stroke="#000" stroke-width="1.4">0.2</text>
<text class="s k0" transform="translate(159.69,881.46) scale(0.7830,1)" font-size="30.0" text-anchor="end" fill="#000" stroke="#000" stroke-width="1.4">0.4</text>
<text class="s k0" transform="translate(160.03,808.64) scale(0.7830,1)" font-size="30.0" text-anchor="end" fill="#000" stroke="#000" stroke-width="1.4">0.6</text>
<text class="s k0" transform="translate(160.02,735.82) scale(0.7830,1)" font-size="30.0" text-anchor="end" fill="#000" stroke="#000" stroke-width="1.4">0.8</text>
<text class="s k0" transform="translate(159.92,663.00) scale(0.7830,1)" font-size="30.0" text-anchor="end" fill="#000" stroke="#000" stroke-width="1.4">1.0</text>
<rect x="127.80" y="658.75" width="4.82" height="6.45" fill="#fff"/>
<rect x="135.80" y="658.75" width="4.63" height="6.45" fill="#fff"/>
<text class="s b" transform="translate(393.69,1092.30) scale(0.8625,1)" font-size="28.5" text-anchor="start" fill="#000">Carbon source (g/L)</text>
<g transform="translate(115.2,834.3) rotate(-90)">
<text class="s b k0" transform="scale(1.128,1)" font-size="24.5" text-anchor="middle">Maximum specific growth rate (h/1)</text>
<rect x="207.50" y="-3.70" width="5.50" height="5.10" fill="#fff"/>
<rect x="216.81" y="-3.70" width="5.14" height="5.10" fill="#fff"/>
</g>
</svg>
</body></html>
